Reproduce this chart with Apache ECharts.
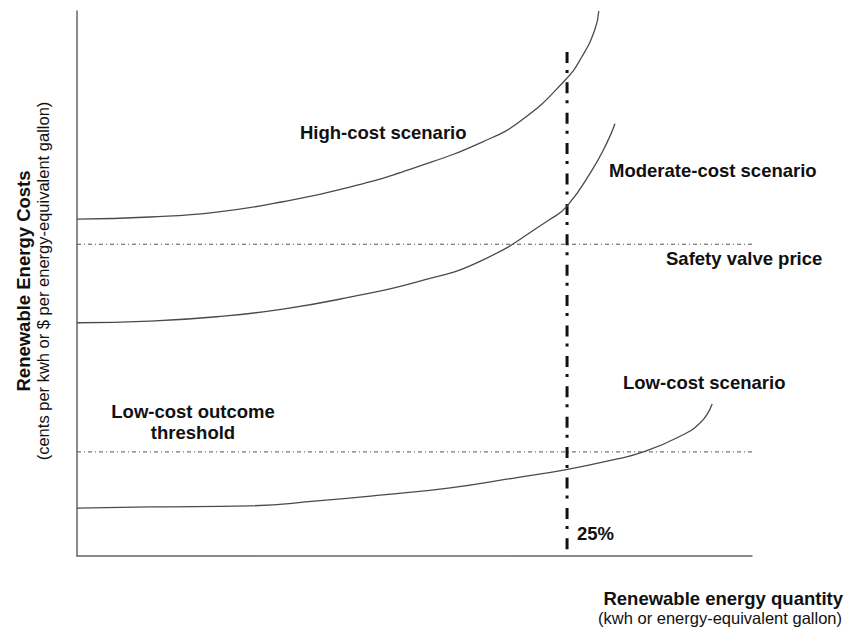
<!DOCTYPE html>
<html>
<head>
<meta charset="utf-8">
<script src="https://cdn.jsdelivr.net/npm/echarts@6/dist/echarts.min.js"></script>
<style>
  html, body { margin: 0; padding: 0; background: #fff; }
  #chart { width: 850px; height: 627px; }
</style>
</head>
<body>
<div id="chart"></div>
<script>
// Data (arbitrary units: quantity 0-100, cost 0-100)
const highCost = [[0,61.8],[10.8,62.2],[20.7,63.1],[30.5,65.0],[40.4,67.7],[50.4,71.4],[60.1,76.0],[65.9,80.0],[72.3,87.3],[74.8,91.6],[76.7,96.5],[77.3,100]];
const moderateCost = [[0,42.8],[10.8,43.1],[20.7,43.9],[30.5,45.3],[40.4,47.5],[50.4,50.3],[60.1,54.3],[70.1,61.8],[72.6,64.2],[76.3,70.8],[78.5,75.8],[79.7,79.3]];
const lowCost = [[0,8.8],[10.8,9.0],[25.6,9.2],[35.6,10.1],[45.3,11.2],[55.3,12.5],[65.2,14.4],[72.3,15.8],[80.0,17.8],[83.9,19.1],[88.9,21.7],[92.3,24.4],[94.1,27.9]];
const safetyValve = [[0,57.2],[101,57.2]];
const lowThreshold = [[0,19.1],[101,19.1]];
const target25 = [[72.6,92.5],[72.6,0]];

const FONT = '"Liberation Sans", Arial, sans-serif';
const chart = echarts.init(document.getElementById('chart'), null, {renderer: 'svg'});

function curve(name, data) {
  return {
    name, type: 'line', data, smooth: 0.5, symbol: 'none',
    lineStyle: {color: '#4a4a4a', width: 1.3}, silent: true, z: 3
  };
}
function refLine(name, data, style) {
  return {name, type: 'line', data, symbol: 'none', clip: false, lineStyle: style, silent: true, z: 2};
}
function label(text, x, y, opts) {
  return {
    type: 'text', x, y,
    style: Object.assign({text, font: 'bold 18.5px ' + FONT, fill: '#111', textAlign: 'left', textVerticalAlign: 'middle'}, opts || {})
  };
}

chart.setOption({
  animation: false,
  backgroundColor: '#fff',
  grid: {left: 77, right: 98, top: 11, bottom: 71},
  xAxis: {
    type: 'value', min: 0, max: 100,
    axisLine: {show: true, lineStyle: {color: '#666', width: 1.5}},
    axisTick: {show: false}, axisLabel: {show: false}, splitLine: {show: false}
  },
  yAxis: {
    type: 'value', min: 0, max: 100,
    axisLine: {show: true, lineStyle: {color: '#666', width: 1.5}},
    axisTick: {show: false}, axisLabel: {show: false}, splitLine: {show: false}
  },
  series: [
    curve('High-cost scenario', highCost),
    curve('Moderate-cost scenario', moderateCost),
    curve('Low-cost scenario', lowCost),
    refLine('Safety valve price', safetyValve, {color: '#555', width: 1, type: [4, 3, 1, 3]}),
    refLine('Low-cost outcome threshold', lowThreshold, {color: '#555', width: 1, type: [4, 3, 1, 3]}),
    refLine('25%', target25, {color: '#111', width: 3, type: [11, 7, 3, 9.4]})
  ],
  graphic: [
    label('High-cost scenario', 300, 132),
    label('Moderate-cost scenario', 609, 170),
    label('Safety valve price', 666, 258),
    label('Low-cost scenario', 623, 382),
    label('Low-cost outcome', 193, 411, {textAlign: 'center'}),
    label('threshold', 193, 432, {textAlign: 'center'}),
    label('25%', 577, 533),
    label('Renewable energy quantity', 843, 598, {textAlign: 'right'}),
    label('(kwh or energy-equivalent gallon)', 842, 618, {textAlign: 'right', font: '16.5px ' + FONT}),
    {type: 'text', x: 23, y: 281, rotation: Math.PI / 2,
      style: {text: 'Renewable Energy Costs', font: 'bold 18.5px ' + FONT, fill: '#111', textAlign: 'center', textVerticalAlign: 'middle'}},
    {type: 'text', x: 43, y: 281, rotation: Math.PI / 2,
      style: {text: '(cents per kwh or $ per energy-equivalent gallon)', font: '16.5px ' + FONT, fill: '#111', textAlign: 'center', textVerticalAlign: 'middle'}}
  ]
});
</script>
</body>
</html>
